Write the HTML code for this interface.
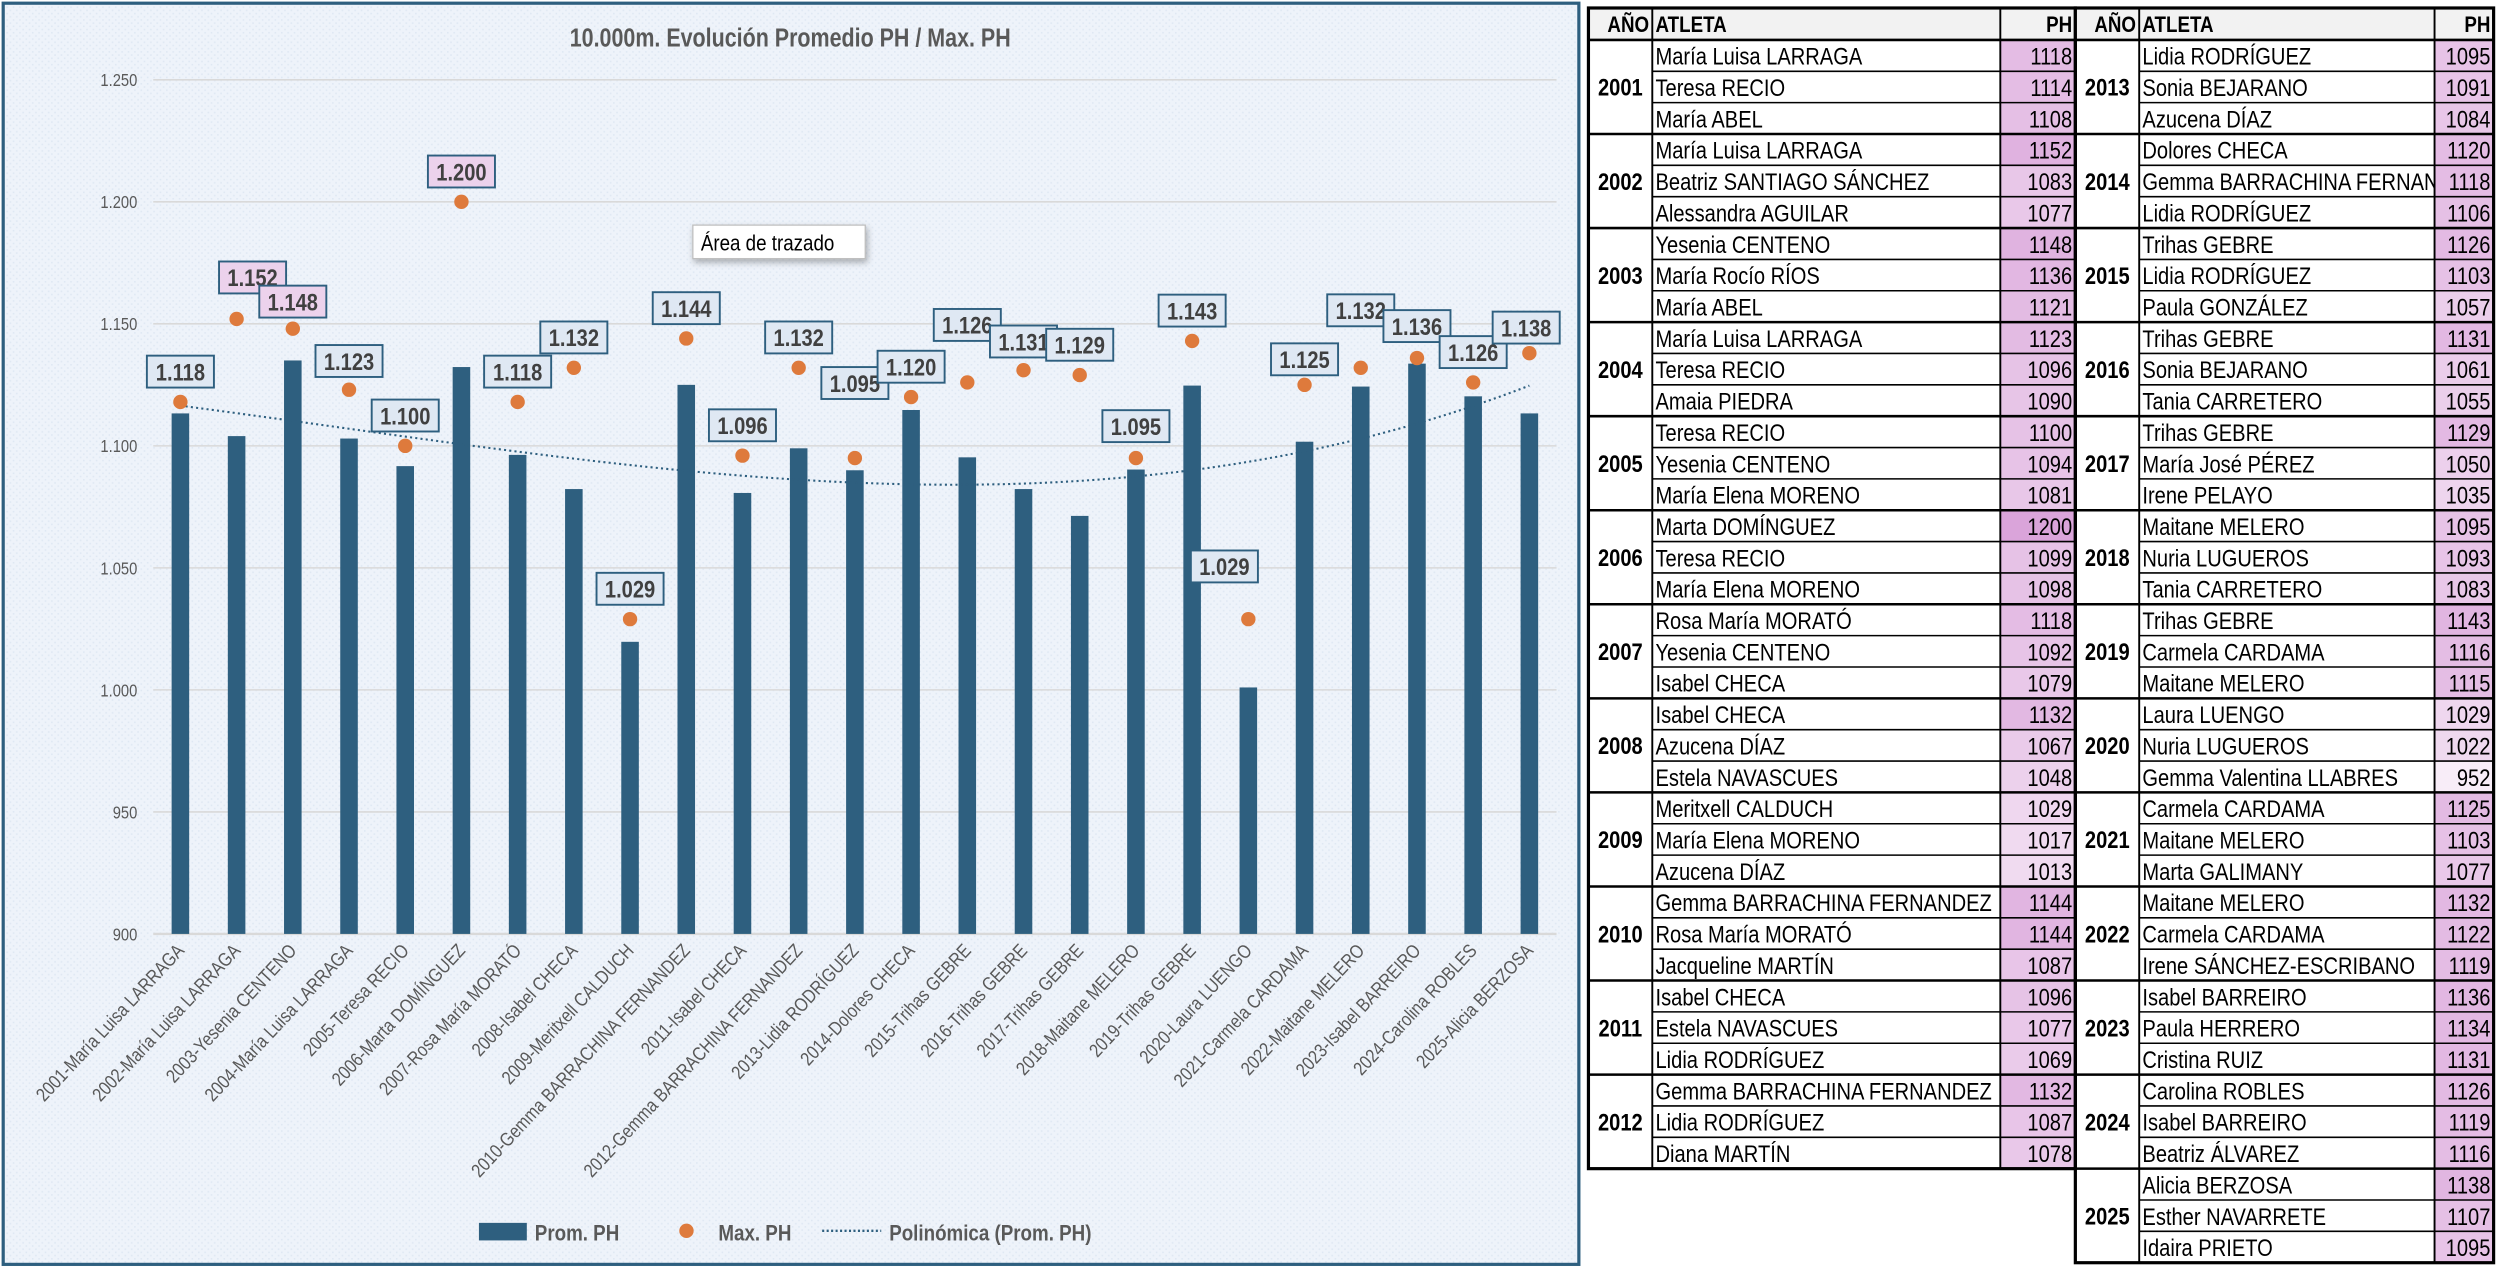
<!DOCTYPE html>
<html><head><meta charset="utf-8">
<style>
html,body{margin:0;padding:0;background:#fff;width:2500px;height:1273px;overflow:hidden}
svg{display:block}
text{font-family:"Liberation Sans",sans-serif}
</style></head>
<body>
<svg id="root" width="2500" height="1273" viewBox="0 0 1566 797.4" xmlns="http://www.w3.org/2000/svg">
<defs>
<pattern id="bgpat" width="4" height="4" patternUnits="userSpaceOnUse">
<rect width="4" height="4" fill="#eef3fa"/><rect width="1" height="1" fill="#dfe8f3"/><rect x="2" y="2" width="1" height="1" fill="#dfe8f3"/>
</pattern>
<clipPath id="clipR"><rect x="1340" y="0" width="185" height="800"/></clipPath>
<clipPath id="clipL"><rect x="1035" y="0" width="218" height="800"/></clipPath>
<filter id="sh" x="-20%" y="-20%" width="140%" height="160%"><feDropShadow dx="1" dy="2" stdDeviation="2" flood-opacity="0.3"/></filter>
</defs>
<g id="chart"></g>
<g id="table"></g>
</svg>
<script>
const categories=["2001-María Luisa LARRAGA","2002-María Luisa LARRAGA","2003-Yesenia CENTENO","2004-María Luisa LARRAGA","2005-Teresa RECIO","2006-Marta DOMÍNGUEZ","2007-Rosa María MORATÓ","2008-Isabel CHECA","2009-Meritxell CALDUCH","2010-Gemma BARRACHINA FERNANDEZ","2011-Isabel CHECA","2012-Gemma BARRACHINA FERNANDEZ","2013-Lidia RODRÍGUEZ","2014-Dolores CHECA","2015-Trihas GEBRE","2016-Trihas GEBRE","2017-Trihas GEBRE","2018-Maitane MELERO","2019-Trihas GEBRE","2020-Laura LUENGO","2021-Carmela CARDAMA","2022-Maitane MELERO","2023-Isabel BARREIRO","2024-Carolina ROBLES","2025-Alicia BERZOSA"];
const promPH=[1113.3,1104,1135,1103,1091.7,1132.3,1096.3,1082.3,1019.7,1125,1080.7,1099,1090,1114.7,1095.3,1082.3,1071.3,1090.3,1124.7,1001,1101.7,1124.3,1133.7,1120.3,1113.3];
const maxPH=[1118,1152,1148,1123,1100,1200,1118,1132,1029,1144,1096,1132,1095,1120,1126,1131,1129,1095,1143,1029,1125,1132,1136,1126,1138];
const yTicks=[900,950,1000,1050,1100,1150,1200,1250];
const yTickLabels=["900","950","1.000","1.050","1.100","1.150","1.200","1.250"];
// label placement offsets (layout only)
const lblDx=[0,10,0,0,0,0,0,0,0,0,0,0,0,0,0,0,0,0,0,-15,0,0,0,0,-2];
const lblDy=[19,26,17,18,19,19,19,19,19,19,19,19,47,19,36,18,19,20,19,33,16,36,20,19,16];

const years=[2001,2002,2003,2004,2005,2006,2007,2008,2009,2010,2011,2012,2013,2014,2015,2016,2017,2018,2019,2020,2021,2022,2023,2024,2025];
const athletes=[
["María Luisa LARRAGA","Teresa RECIO","María ABEL"],
["María Luisa LARRAGA","Beatriz SANTIAGO SÁNCHEZ","Alessandra AGUILAR"],
["Yesenia CENTENO","María Rocío RÍOS","María ABEL"],
["María Luisa LARRAGA","Teresa RECIO","Amaia PIEDRA"],
["Teresa RECIO","Yesenia CENTENO","María Elena MORENO"],
["Marta DOMÍNGUEZ","Teresa RECIO","María Elena MORENO"],
["Rosa María MORATÓ","Yesenia CENTENO","Isabel CHECA"],
["Isabel CHECA","Azucena DÍAZ","Estela NAVASCUES"],
["Meritxell CALDUCH","María Elena MORENO","Azucena DÍAZ"],
["Gemma BARRACHINA FERNANDEZ","Rosa María MORATÓ","Jacqueline MARTÍN"],
["Isabel CHECA","Estela NAVASCUES","Lidia RODRÍGUEZ"],
["Gemma BARRACHINA FERNANDEZ","Lidia RODRÍGUEZ","Diana MARTÍN"],
["Lidia RODRÍGUEZ","Sonia BEJARANO","Azucena DÍAZ"],
["Dolores CHECA","Gemma BARRACHINA FERNANDEZ","Lidia RODRÍGUEZ"],
["Trihas GEBRE","Lidia RODRÍGUEZ","Paula GONZÁLEZ"],
["Trihas GEBRE","Sonia BEJARANO","Tania CARRETERO"],
["Trihas GEBRE","María José PÉREZ","Irene PELAYO"],
["Maitane MELERO","Nuria LUGUEROS","Tania CARRETERO"],
["Trihas GEBRE","Carmela CARDAMA","Maitane MELERO"],
["Laura LUENGO","Nuria LUGUEROS","Gemma Valentina LLABRES"],
["Carmela CARDAMA","Maitane MELERO","Marta GALIMANY"],
["Maitane MELERO","Carmela CARDAMA","Irene SÁNCHEZ-ESCRIBANO"],
["Isabel BARREIRO","Paula HERRERO","Cristina RUIZ"],
["Carolina ROBLES","Isabel BARREIRO","Beatriz ÁLVAREZ"],
["Alicia BERZOSA","Esther NAVARRETE","Idaira PRIETO"]];
const phValues=[
[1118,1114,1108],[1152,1083,1077],[1148,1136,1121],[1123,1096,1090],[1100,1094,1081],
[1200,1099,1098],[1118,1092,1079],[1132,1067,1048],[1029,1017,1013],[1144,1144,1087],
[1096,1077,1069],[1132,1087,1078],[1095,1091,1084],[1120,1118,1106],[1126,1103,1057],
[1131,1061,1055],[1129,1050,1035],[1095,1093,1083],[1143,1116,1115],[1029,1022,952],
[1125,1103,1077],[1132,1122,1119],[1136,1134,1131],[1126,1119,1116],[1138,1107,1095]];

const NS="http://www.w3.org/2000/svg";
const SX=0.84;
function mk(tag,attrs,parent,txt){const e=document.createElementNS(NS,tag);for(const k in attrs)e.setAttribute(k,attrs[k]);if(txt!==undefined)e.textContent=txt;parent.appendChild(e);return e;}
// condensed text at (x,y), optional rotation
function mt(x,y,attrs,parent,txt,rot){const a=Object.assign({},attrs);a.x=0;a.y=0;a.transform=`translate(${x} ${y})`+(rot?` rotate(${rot})`:'')+` scale(${SX} 1)`;return mk('text',a,parent,txt);}
const chart=document.getElementById('chart');
const yMin=900,yMax=1250,yTop=50,yBot=585;
function y(v){return yBot-(v-yMin)/(yMax-yMin)*(yBot-yTop);}
const x0=113,step=(958-113)/24;
function x(i){return x0+i*step;}
function fmt(v){const s=String(Math.round(v));return s.length>3?s.slice(0,s.length-3)+'.'+s.slice(-3):s;}

let e;
e=mk('rect',{x:2,y:2,width:987,height:790,fill:'url(#bgpat)',stroke:'#2e5f7f','stroke-width':2},chart);

e=mt(495,29,{'text-anchor':'middle','font-size':16,'font-weight':'bold',fill:'#595959'},chart,'10.000m. Evolución Promedio PH / Max. PH');


yTicks.forEach((t,i)=>{
  const g=mk('line',{x1:96,x2:975,y1:y(t),y2:y(t),stroke:'#d9d9d9','stroke-width':i===0?1.5:1},chart);
  
  const l=mt(86,y(t)+4,{'text-anchor':'end','font-size':11,fill:'#595959'},chart,yTickLabels[i]);
  
});

promPH.forEach((v,i)=>{
  const b=mk('rect',{x:x(i)-5.5,y:y(v),width:11,height:y(yMin)-y(v),fill:'#2e5f7f'},chart);
  
});
// polynomial trend (least squares, order 3)
(function(){
  const n=promPH.length,ord=3,m=ord+1;
  const M=[];for(let r=0;r<m;r++){M.push(new Array(m+1).fill(0));}
  for(let i=0;i<n;i++){const t=(i+1)/n;for(let r=0;r<m;r++){for(let c=0;c<m;c++)M[r][c]+=Math.pow(t,r+c);M[r][m]+=promPH[i]*Math.pow(t,r);}}
  for(let c=0;c<m;c++){for(let r=c+1;r<m;r++){const f=M[r][c]/M[c][c];for(let k=c;k<=m;k++)M[r][k]-=f*M[c][k];}}
  const co=new Array(m).fill(0);for(let r=m-1;r>=0;r--){let s=M[r][m];for(let k=r+1;k<m;k++)s-=M[r][k]*co[k];co[r]=s/M[r][r];}
  let pts=[];for(let i=0;i<=240;i++){const ti=1+i*(n-1)/240;const t=ti/n;let v=0;for(let k=0;k<m;k++)v+=co[k]*Math.pow(t,k);pts.push((x(ti-1)).toFixed(2)+','+y(v).toFixed(2));}
  const p=mk('polyline',{points:pts.join(' '),fill:'none',stroke:'#2e5f7f','stroke-width':1.3,'stroke-dasharray':'1.3 2'},chart);
  
})();
maxPH.forEach((v,i)=>{
  const c=mk('circle',{cx:x(i),cy:y(v),r:4.5,fill:'#de7a3c'},chart);
  
});
maxPH.forEach((v,i)=>{
  const cx=x(i)+lblDx[i],cy=y(v)-lblDy[i];
  const pink=v>=1148;
  const r=mk('rect',{x:cx-21,y:cy-10,width:42,height:20,fill:pink?'#ecd2ec':'#dfe8f3',stroke:'#2e5f7f','stroke-width':1.2},chart);
  
  const t=mt(cx,cy+5.5,{'text-anchor':'middle','font-size':15,'font-weight':'bold',fill:'#404040'},chart,fmt(v));
  
});
categories.forEach((c,i)=>{
  const t=mt(x(i)+3,596,{'text-anchor':'end','font-size':12,fill:'#595959'},chart,c,-47);
  
});
e=mk('rect',{x:434,y:141,width:108,height:21,fill:'#fff',stroke:'#bfbfbf','stroke-width':0.8,filter:'url(#sh)'},chart);

e=mt(439,157,{'font-size':14,fill:'#000'},chart,'Área de trazado');

e=mk('rect',{x:300,y:766,width:30,height:11,fill:'#2e5f7f'},chart);
e=mt(335,777,{'font-size':14,'font-weight':'bold',fill:'#595959'},chart,'Prom. PH');
e=mk('circle',{cx:430,cy:771,r:4.5,fill:'#de7a3c'},chart);
e=mt(450,777,{'font-size':14,'font-weight':'bold',fill:'#595959'},chart,'Max. PH');
e=mk('line',{x1:515,x2:552,y1:771,y2:771,stroke:'#2e5f7f','stroke-width':1.5,'stroke-dasharray':'1.3 1.5'},chart);
e=mt(557,777,{'font-size':14,'font-weight':'bold',fill:'#595959'},chart,'Polinómica (Prom. PH)');

const tbl=document.getElementById('table');
const rowH=19.64,hdrTop=5,hdrBot=25;
function phColor(v){const t=Math.max(0,Math.min(1,(v-950)/250));const a=[248,238,248],b=[218,164,218];return `rgb(${a.map((c,k)=>Math.round(c+(b[k]-c)*t)).join(',')})`;}
function drawTable(cols,startIdx,count,clip){
  const [xa,xb,xc,xd]=cols;const nRows=count*3;const bottom=hdrBot+nRows*rowH;
  e=mk('rect',{x:xa,y:hdrTop,width:xd-xa,height:hdrBot-hdrTop,fill:'#f2f2f2'},tbl);
  [['AÑO',xb-2,'end'],['ATLETA',xb+2,'start'],['PH',xd-2,'end']].forEach(h=>{
    const t=mt(h[1],20,{'text-anchor':h[2],'font-size':14,'font-weight':'bold',fill:'#000'},tbl,h[0]);
    
  });
  for(let g=0;g<count;g++){
    const yi=startIdx+g;const gy=hdrBot+g*3*rowH;
    for(let r=0;r<3;r++){
      const ry=gy+r*rowH;const v=phValues[yi][r];
      e=mk('rect',{x:xc,y:ry,width:xd-xc,height:rowH,fill:phColor(v)},tbl);
      const gg=mk('g',{'clip-path':clip},tbl);
      e=mt(xb+2,ry+15.5,{'font-size':15,fill:'#000'},gg,athletes[yi][r]);
      e=mt(xd-2,ry+15.5,{'text-anchor':'end','font-size':15,fill:'#000'},tbl,String(v));
      if(r>0){e=mk('line',{x1:xb,x2:xd,y1:ry,y2:ry,stroke:'#000','stroke-width':1},tbl);}
    }
    e=mt((xa+xb)/2,gy+1.5*rowH+5.5,{'text-anchor':'middle','font-size':15,'font-weight':'bold',fill:'#000'},tbl,String(years[yi]));
    e=mk('line',{x1:xa,x2:xd,y1:gy,y2:gy,stroke:'#000','stroke-width':1.6},tbl);
  }
  [xb,xc].forEach(cx=>{e=mk('line',{x1:cx,x2:cx,y1:hdrTop,y2:bottom,stroke:'#000','stroke-width':1.2},tbl);});
  e=mk('rect',{x:xa,y:hdrTop,width:xd-xa,height:bottom-hdrTop,fill:'none',stroke:'#000','stroke-width':2},tbl);
}
drawTable([995,1035,1253,1300],0,12,'url(#clipL)');
drawTable([1300,1340,1525,1562],12,13,'url(#clipR)');
</script>
</body></html>
